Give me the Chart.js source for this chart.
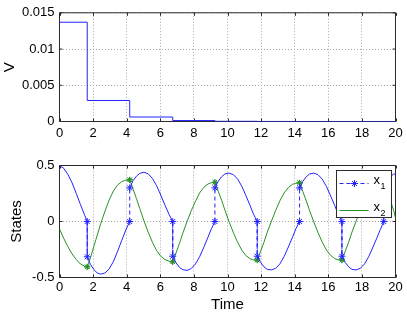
<!DOCTYPE html>
<html>
<head>
<meta charset="utf-8">
<script src="https://cdn.jsdelivr.net/npm/chart.js@4/dist/chart.umd.min.js"></script>
<style>
  html, body { margin: 0; padding: 0; background: #fff; }
  #wrap { position: relative; width: 407px; height: 314px; }
  canvas { position: absolute; left: 0; }
</style>
</head>
<body>
<div id="wrap">
  <canvas id="vChart" width="407" height="145" style="top:0"></canvas>
  <canvas id="stateChart" width="407" height="164" style="top:150px"></canvas>
</div>
<script>
// top panel: V, piecewise constant between impulse times
const vTime = [0, 1.65, 4.18, 6.74, 9.25, 11.77, 14.29, 16.81, 19.3, 20];
const vValue = [0.0137, 0.0029, 0.00062, 0.00013, 0.000028, 0.000006, 0.0000013, 0.0000003, 0.00000006, 0.00000006];

// bottom panel: states (repeated time = jump at an impulse)
const time = [
  0, 0.25, 0.5, 0.75, 1.0, 1.25, 1.5, 1.65,
  1.65, 1.85, 2.05, 2.25, 2.45, 2.7, 2.95, 3.2, 3.45, 3.7, 3.95, 4.18,
  4.18, 4.38, 4.58, 4.78, 5.03, 5.28, 5.53, 5.78, 6.03, 6.28, 6.53, 6.74,
  6.74, 6.94, 7.14, 7.34, 7.59, 7.84, 8.09, 8.34, 8.59, 8.84, 9.04, 9.25,
  9.25, 9.45, 9.65, 9.85, 10.1, 10.35, 10.6, 10.85, 11.1, 11.35, 11.55, 11.77,
  11.77, 11.97, 12.17, 12.37, 12.62, 12.87, 13.12, 13.37, 13.62, 13.87, 14.07, 14.29,
  14.29, 14.49, 14.69, 14.89, 15.14, 15.39, 15.64, 15.89, 16.14, 16.39, 16.59, 16.81,
  16.81, 17.01, 17.21, 17.41, 17.66, 17.91, 18.16, 18.41, 18.66, 18.91, 19.1, 19.3,
  19.3, 19.5, 19.7, 19.9, 20
];
const x1 = [
  0.5, 0.475, 0.42, 0.345, 0.25, 0.15, 0.055, 0,
  -0.315, -0.385, -0.43, -0.46, -0.47, -0.46, -0.425, -0.36, -0.27, -0.17, -0.075, 0,
  0.30, 0.365, 0.405, 0.43, 0.44, 0.425, 0.385, 0.32, 0.235, 0.145, 0.06, 0,
  -0.31, -0.37, -0.41, -0.43, -0.437, -0.42, -0.38, -0.315, -0.23, -0.14, -0.065, 0,
  0.30, 0.36, 0.40, 0.425, 0.432, 0.418, 0.38, 0.315, 0.23, 0.14, 0.065, 0,
  -0.31, -0.365, -0.405, -0.428, -0.432, -0.418, -0.378, -0.313, -0.228, -0.14, -0.065, 0,
  0.30, 0.36, 0.40, 0.425, 0.432, 0.418, 0.378, 0.313, 0.228, 0.14, 0.065, 0,
  -0.31, -0.365, -0.405, -0.428, -0.432, -0.418, -0.378, -0.313, -0.228, -0.14, -0.07, 0,
  0.30, 0.36, 0.40, 0.425, 0.42
];
const x2 = [
  -0.066, -0.15, -0.225, -0.29, -0.34, -0.38, -0.40, -0.405,
  -0.405, -0.32, -0.22, -0.12, -0.02, 0.09, 0.19, 0.27, 0.325, 0.355, 0.37, 0.372,
  0.372, 0.29, 0.205, 0.115, 0.005, -0.095, -0.185, -0.26, -0.31, -0.34, -0.355, -0.36,
  -0.36, -0.28, -0.195, -0.105, 0.0, 0.095, 0.18, 0.255, 0.305, 0.335, 0.347, 0.35,
  0.35, 0.27, 0.19, 0.10, -0.005, -0.10, -0.185, -0.255, -0.305, -0.333, -0.343, -0.345,
  -0.345, -0.265, -0.185, -0.095, 0.005, 0.10, 0.185, 0.255, 0.303, 0.332, 0.342, 0.345,
  0.345, 0.265, 0.185, 0.095, -0.005, -0.10, -0.185, -0.255, -0.303, -0.332, -0.342, -0.345,
  -0.345, -0.265, -0.185, -0.095, 0.005, 0.10, 0.185, 0.255, 0.303, 0.332, 0.342, 0.345,
  0.345, 0.265, 0.185, 0.095, 0.03
];

const xTickLabels = ['0', '2', '4', '6', '8', '10', '12', '14', '16', '18', '20'];
const vTickLabels = ['0', '0.005', '0.01', '0.015'];
const stateTickLabels = ['-0.5', '0', '0.5'];
const seriesNames = ['x1', 'x2'];

const BLUE = 'rgb(35,35,255)';
const GREEN = 'rgb(40,145,40)';
const FRAME = '#2b2b2b';
const FONT = '"Liberation Sans", Arial, Helvetica, sans-serif';

Chart.defaults.font.family = FONT;
Chart.defaults.font.size = 13;
Chart.defaults.color = '#000';

const isJump = i => time[i] === time[i - 1] || time[i] === time[i + 1];

// axes box with small inward ticks, like the original figure
const frame = {
  id: 'frame',
  beforeDatasetsDraw(chart) {
    const { ctx, chartArea: a, scales } = chart;
    ctx.save();
    ctx.strokeStyle = FRAME;
    ctx.lineWidth = 1;
    ctx.beginPath();
    scales.x.ticks.forEach(t => {
      const px = Math.round(scales.x.getPixelForValue(t.value)) + 0.5;
      ctx.moveTo(px, a.bottom); ctx.lineTo(px, a.bottom - 3);
      ctx.moveTo(px, a.top); ctx.lineTo(px, a.top + 3);
    });
    scales.y.ticks.forEach(t => {
      const py = scales.y.getPixelForValue(t.value);
      ctx.moveTo(a.left, py); ctx.lineTo(a.left + 3, py);
      ctx.moveTo(a.right, py); ctx.lineTo(a.right - 3, py);
    });
    ctx.rect(a.left, a.top, a.right - a.left, a.bottom - a.top);
    ctx.stroke();
    ctx.restore();
  }
};

function drawStar(ctx, x, y, r, color) {
  ctx.save();
  ctx.strokeStyle = color;
  ctx.lineWidth = 1;
  ctx.setLineDash([]);
  ctx.beginPath();
  for (let k = 0; k < 4; k++) {
    const ang = k * Math.PI / 4;
    ctx.moveTo(x - r * Math.cos(ang), y - r * Math.sin(ang));
    ctx.lineTo(x + r * Math.cos(ang), y + r * Math.sin(ang));
  }
  ctx.stroke();
  ctx.restore();
}

const stateLegend = {
  id: 'stateLegend',
  afterDraw(chart) {
    const { ctx, chartArea: a } = chart;
    const w = 55, h = 47;
    const bx = a.right - 4 - w, by = a.top + 5;
    ctx.save();
    ctx.fillStyle = '#fff';
    ctx.fillRect(bx, by, w, h);
    ctx.strokeStyle = FRAME;
    ctx.lineWidth = 1;
    ctx.strokeRect(bx, by, w, h);
    chart.data.datasets.forEach((ds, i) => {
      const ly = by + 13 + i * 27;
      ctx.strokeStyle = ds.borderColor;
      ctx.setLineDash(i === 0 ? [4, 3] : []);
      ctx.beginPath();
      ctx.moveTo(bx + 3, ly);
      ctx.lineTo(bx + 32, ly);
      ctx.stroke();
      if (i === 0) drawStar(ctx, bx + 18, ly, 3.5, ds.borderColor);
      ctx.fillStyle = '#000';
      ctx.textBaseline = 'alphabetic';
      ctx.font = '13px ' + FONT;
      ctx.fillText(seriesNames[i][0], bx + 37, ly);
      ctx.font = '9px ' + FONT;
      ctx.fillText(seriesNames[i].slice(1), bx + 44, ly + 5);
    });
    ctx.restore();
  }
};

const gridOpts = { color: '#a8a8a8', drawTicks: false };
const borderOpts = { display: false, dash: [1, 2] };

function xScale(height, padding, title) {
  return {
    type: 'linear', min: 0, max: 20,
    ticks: { stepSize: 2, padding, callback: (v, i) => xTickLabels[i] },
    grid: gridOpts, border: borderOpts,
    title: title ? { display: true, text: title, font: { size: 15 }, padding: { top: 0, bottom: 0 } } : { display: false },
    afterFit: s => { s.height = height; }
  };
}

function yScale(min, max, step, labels, title, tpad) {
  return {
    min, max,
    ticks: { stepSize: step, padding: 5, callback: (v, i) => labels[i] },
    grid: gridOpts, border: borderOpts,
    title: { display: true, text: title, font: { size: 15 }, padding: { top: tpad, bottom: 0 } },
    afterFit: s => { s.width = 59.5; }
  };
}

new Chart(document.getElementById('vChart'), {
  type: 'line',
  data: {
    datasets: [{
      data: vTime.map((t, i) => ({ x: t, y: vValue[i] })),
      stepped: true,
      borderColor: BLUE,
      borderWidth: 1,
      pointRadius: 0
    }]
  },
  options: {
    responsive: false,
    animation: false,
    events: [],
    layout: { padding: { top: 10.5, right: 11.5, left: 0, bottom: 0 } },
    plugins: { legend: { display: false }, tooltip: { enabled: false } },
    scales: {
      x: xScale(23.5, 4),
      y: yScale(0, 0.015, 0.005, vTickLabels, 'V', 0.5)
    }
  },
  plugins: [frame]
});

new Chart(document.getElementById('stateChart'), {
  type: 'line',
  data: {
    datasets: [
      {
        label: seriesNames[0],
        data: time.map((t, i) => ({ x: t, y: x1[i] })),
        borderColor: BLUE,
        borderWidth: 1,
        order: 0,
        pointStyle: 'star',
        pointRadius: c => isJump(c.dataIndex) ? 3.5 : 0,
        pointBorderColor: BLUE,
        pointBackgroundColor: BLUE,
        pointBorderWidth: 1,
        segment: { borderDash: c => c.p0.parsed.x === c.p1.parsed.x ? [4, 3] : undefined }
      },
      {
        label: seriesNames[1],
        data: time.map((t, i) => ({ x: t, y: x2[i] })),
        borderColor: GREEN,
        borderWidth: 1,
        order: 1,
        pointStyle: 'star',
        pointRadius: c => isJump(c.dataIndex) ? 3 : 0,
        pointBorderColor: GREEN,
        pointBackgroundColor: GREEN,
        pointBorderWidth: 1
      }
    ]
  },
  options: {
    responsive: false,
    animation: false,
    events: [],
    layout: { padding: { top: 15.5, right: 11.5, left: 0, bottom: 0 } },
    plugins: { legend: { display: false }, tooltip: { enabled: false } },
    scales: {
      x: xScale(36.5, 2, 'Time'),
      y: yScale(-0.5, 0.5, 0.5, stateTickLabels, 'States', 8)
    }
  },
  plugins: [frame, stateLegend]
});
</script>
</body>
</html>
